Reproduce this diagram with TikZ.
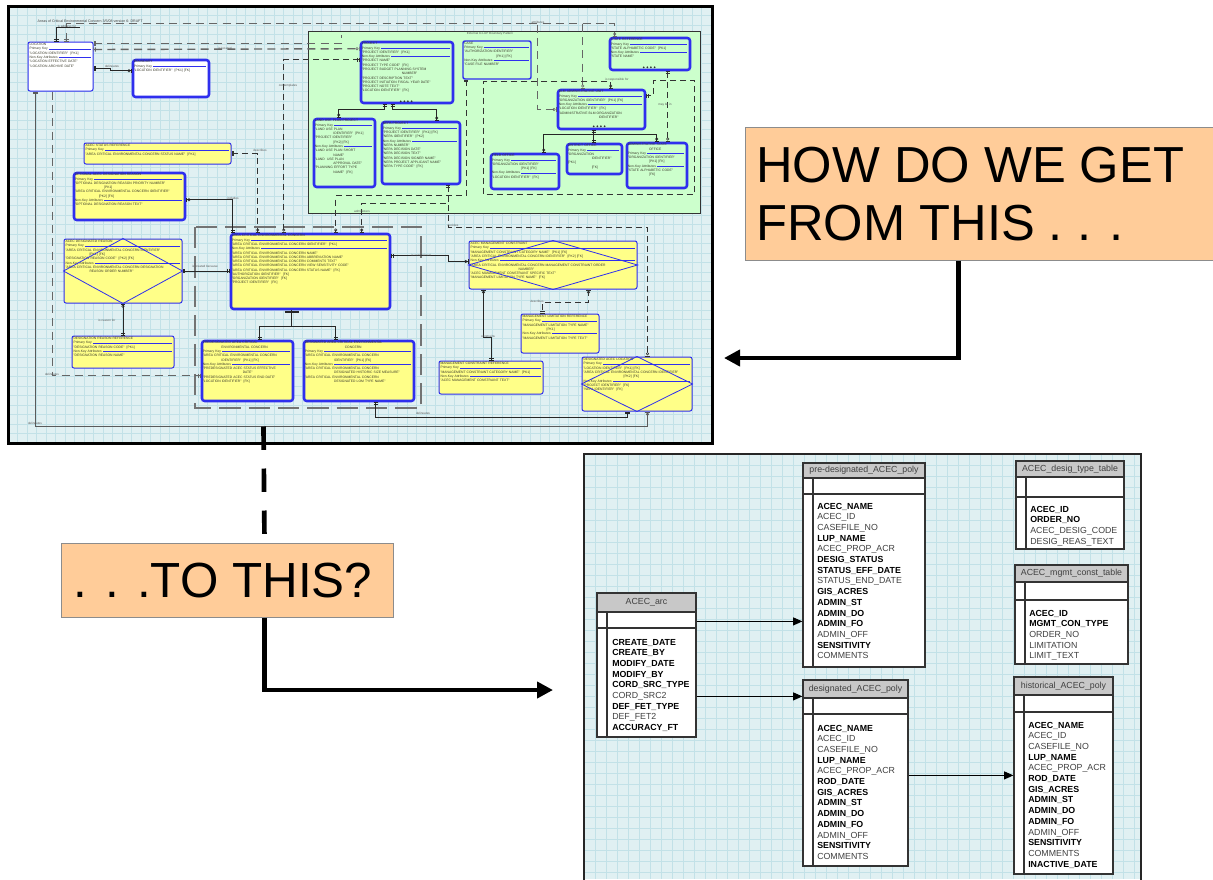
\documentclass[tikz,border=0pt]{standalone}
\usepackage{fontspec}
\setmainfont{Liberation Sans}
\usetikzlibrary{fit,calc,arrows.meta}

\definecolor{panelbg}{HTML}{E0F0F2}
\definecolor{gridcol}{HTML}{C2E1E7}
\definecolor{erblue}{HTML}{2F2FEE}
\definecolor{eryellow}{HTML}{FFFF88}
\definecolor{ergreen}{HTML}{CCFFCC}
\definecolor{ertext}{HTML}{3A3A2A}
\definecolor{callout}{HTML}{FFCC99}
\definecolor{hdrgray}{HTML}{C8C8C8}
\definecolor{rowgray}{HTML}{404040}
\definecolor{relgray}{HTML}{5A5A5A}

% separator rule after the key headings of an entity
\newcommand\erline{\textcolor{erblue}{\leaders\hrule height 1.05pt depth -0.6pt\hskip 0pt plus 1fill}\kern0pt}
\newcommand\pkey{Primary Key\ \erline}
\newcommand\nkey{Non-Key Attributes\ \erline}
\newcommand\rowB{\bfseries\color{black}}
\newcommand\rowN{\color{rowgray}}

\tikzset{
  bars/.tip={Bar[width=3.2pt,line width=0.5pt,sep=0.7pt]Bar[width=3.2pt,line width=0.5pt]},
  zcrow/.tip={Circle[open,length=2.3pt,width=2.3pt,line width=0.45pt,sep=0.4pt]Bar[width=3.2pt,line width=0.5pt]},
  gridln/.style={draw=gridcol,line width=0.35pt},
  ent/.style={draw=erblue,line width=0.75pt,rounded corners=1.5pt,inner sep=0pt},
  entk/.style={draw=erblue,line width=1.9pt,rounded corners=2pt,inner sep=0pt},
  zone/.style={draw=black!80,fill=ergreen,line width=0.75pt,inner sep=0pt},
  ertxt/.style={font=\fontsize{2.5pt}{3.2pt}\selectfont,text=ertext,inner sep=0pt,align=left,anchor=north west},
  lbl/.style={font=\fontsize{2.3pt}{2.6pt}\selectfont,text=black!65,inner sep=0.3pt},
  relk/.style={draw=black!85,line width=0.6pt},
  relg/.style={draw=relgray,line width=0.9pt},
  reld/.style={draw=black!80,line width=0.7pt,dash pattern=on 4.5pt off 3pt},
  reldh/.style={draw=black!60,line width=1.05pt,dash pattern=on 6pt off 4pt},
  relgd/.style={draw=black!55,line width=0.9pt,dash pattern=on 16pt off 6pt},
  panelA/.style={draw=black,line width=2.25pt,inner sep=0pt},
  panelB/.style={draw=black!85,line width=1.5pt,inner sep=0pt},
  tblbody/.style={draw=black!80,fill=white,line width=0.9pt,inner sep=0pt},
  tblhead/.style={draw=black!80,fill=hdrgray,line width=0.9pt,inner sep=0pt},
  tblline/.style={draw=black!80,line width=0.9pt},
  tbltitle/.style={font=\fontsize{6.6pt}{8pt}\selectfont,text=black!75,inner sep=0pt},
  tblrow/.style={font=\fontsize{6.6pt}{8pt}\selectfont,anchor=base west,inner sep=0pt},
  tarrow/.style={draw=black,line width=0.8pt,-{Triangle[length=7pt,width=6pt]}},
  callbox/.style={fill=callout,draw=black!45,line width=0.75pt,inner sep=0pt},
  calltext/.style={font=\fontsize{38pt}{44pt}\selectfont,anchor=base west,inner sep=0pt},
  bigline/.style={draw=black,line width=3.5pt,-{Triangle[length=12pt,width=12pt]}},
  bigdash/.style={draw=black,line width=3.5pt,dash pattern=on 17.5pt off 14pt},
}

% entity box: name, x1, y1, x2, y2, box style, attribute text
\newcommand\erbox[7]{%
  \node[#6, fit={(#2,#3) (#4,#5)}] (#1) {};%
  \pgfmathsetmacro\ertw{(#4-#2-3.5)*0.75}%
  \node[ertxt, text width=\ertw pt] (#1-t) at ($(#1.north west)+(1.8,1.6)$) {#7};%
}
% table: name, x1, y1, x2, header bottom, key row bottom, bottom, column line x, title
\newcommand\dbtable[9]{%
  \node[tblbody, fit={(#2,#5) (#4,#7)}] (#1) {};%
  \node[tblhead, fit={(#2,#3) (#4,#5)}] (#1-h) {};%
  \node[tbltitle] (#1-title) at (#1-h.center) {#9};%
  \draw[tblline] (#2,#6) -- (#4,#6);%
  \draw[tblline] (#8,#5) -- (#8,#7);%
}
% table rows: name, x, first baseline, list of style/text
\newcommand\dbrows[4]{%
  \foreach \rf/\rt [count=\k from 0] in {#4}{%
    \node[tblrow] (#1-r\k) at (#2,{#3+10.7*\k}) {\rf\rt};}%
}

\begin{document}
\begin{tikzpicture}[x=0.75pt,y=-0.75pt]
\useasboundingbox (0,0) rectangle (1213,879);
\fill[white] (0,0) rectangle (1213,879);

% ---------- logical model sheet ----------
\begin{scope}
  \clip (8,6) rectangle (712,443);
  \fill[panelbg] (8,6) rectangle (712,443);
  \foreach \gx in {8,17.5,...,712} \draw[gridln] (\gx,6) -- (\gx,443);
  \foreach \gy in {6,15.5,...,443} \draw[gridln] (8,\gy) -- (712,\gy);
\end{scope}

% ---------- physical tables sheet ----------
\begin{scope}
  \clip (584,454) rectangle (1141,879);
  \fill[panelbg] (584,454) rectangle (1141,879);
  \foreach \gx in {584,595,...,1141} \draw[gridln] (\gx,454) -- (\gx,879);
  \foreach \gy in {454,465,...,879} \draw[gridln] (584,\gy) -- (1141,\gy);
\end{scope}

\node[lbl,anchor=west,font=\fontsize{2.7pt}{3pt}\selectfont,text=black!75] (sheettitle) at (37,21) {Areas of Critical Environmental Concern 3/5/08 version 6: DRAFT};

% pattern zone
\node[zone, fit={(308,31) (700,213)}] (zone) {};
\node[lbl] (zonelbl) at (490,34) {External to LUP Boundary Pattern};

% subtype grouping frame
\draw[relgd] (195,227) rectangle (421,408);

% ---------- entities ----------
\erbox{loc}{28}{42}{93}{91}{ent,fill=white}{LOCATION\\ \pkey\\ "LOCATION IDENTIFIER"\ \ [PK1]\\ \nkey\\ "LOCATION EFFECTIVE DATE"\\ "LOCATION ARCHIVE DATE"}
\erbox{bnd}{133}{60}{209}{97}{entk,fill=white}{BOUNDARY\\ \pkey\\ "LOCATION IDENTIFIER"\ \ [PK1] [FK]}
\erbox{asr}{84}{143}{231}{164}{ent,fill=eryellow}{ACEC STATUS REFERENCE\\ \pkey\\ "AREA CRITICAL ENVIRONMENTAL CONCERN STATUS NAME"\ \ [PK1]}
\erbox{odr}{74}{173}{185}{220}{entk,fill=eryellow}{OPTIONAL ACEC DESIGNATION REASON\\ \pkey\\ "OPTIONAL DESIGNATION REASON PRIORITY NUMBER"\\ \hspace*{22pt}[PK1]\\ "AREA CRITICAL ENVIRONMENTAL CONCERN IDENTIFIER"\\ \hspace*{18pt}[PK2] [FK]\\ \nkey\\ "OPTIONAL DESIGNATION REASON TEXT"}
\erbox{adr}{64}{239}{182}{303}{ent,fill=eryellow}{ACEC DESIGNATED REASON\\ \pkey\\ "AREA CRITICAL ENVIRONMENTAL CONCERN IDENTIFIER"\\ \hspace*{18pt}[PK1] [FK]\\ "DESIGNATION REASON CODE"\ \ [PK2] [FK]\\ \nkey\\ "AREA CRITICAL ENVIRONMENTAL CONCERN DESIGNATION\\ \hspace*{18pt}REASON ORDER NUMBER"}
\draw[erblue,line width=0.6pt] (adr.north) -- (adr.east) -- (adr.south) -- (adr.west) -- cycle;
\erbox{drr}{72}{336}{174}{368}{ent,fill=eryellow}{DESIGNATION REASON REFERENCE\\ \pkey\\ "DESIGNATION REASON CODE"\ \ [PK1]\\ \nkey\\ "DESIGNATION REASON NAME"}
\erbox{acec}{231}{234}{390}{309}{entk,fill=eryellow}{AREA CRITICAL ENVIRONMENTAL CONCERN\\ \pkey\\ "AREA CRITICAL ENVIRONMENTAL CONCERN IDENTIFIER"\ \ [PK1]\\ \nkey\\ "AREA CRITICAL ENVIRONMENTAL CONCERN NAME"\\ "AREA CRITICAL ENVIRONMENTAL CONCERN ABBREVIATION NAME"\\ "AREA CRITICAL ENVIRONMENTAL CONCERN COMMENTS TEXT"\\ "AREA CRITICAL ENVIRONMENTAL CONCERN VIEW SENSITIVITY CODE"\\ "AREA CRITICAL ENVIRONMENTAL CONCERN STATUS NAME"\ \ [FK]\\ "AUTHORIZATION IDENTIFIER"\ \ [FK]\\ "ORGANIZATION IDENTIFIER"\ \ [FK]\\ "PROJECT IDENTIFIER"\ \ [FK]}
\erbox{pre}{202}{341}{293}{401}{entk,fill=eryellow}{PREDESIGNATED AREA CRITICAL\\ \hspace*{14pt}ENVIRONMENTAL CONCERN\\ \pkey\\ "AREA CRITICAL ENVIRONMENTAL CONCERN\\ \hspace*{14pt}IDENTIFIER"\ \ [PK1] [FK]\\ \nkey\\ "PREDESIGNATED ACEC STATUS EFFECTIVE\\ \hspace*{30pt}DATE"\\ "PREDESIGNATED ACEC STATUS END DATE"\\ "LOCATION IDENTIFIER"\ \ [FK]}
\erbox{des}{304}{341}{414}{401}{entk,fill=eryellow}{DESIGNATED AREA CRITICAL ENVIRONMENTAL\\ \hspace*{30pt}CONCERN\\ \pkey\\ "AREA CRITICAL ENVIRONMENTAL CONCERN\\ \hspace*{22pt}IDENTIFIER"\ \ [PK1] [FK]\\ \nkey\\ "AREA CRITICAL ENVIRONMENTAL CONCERN\\ \hspace*{22pt}DESIGNATED HISTORIC SIZE MEASURE"\\ "AREA CRITICAL ENVIRONMENTAL CONCERN\\ \hspace*{22pt}DESIGNATED LOM TYPE NAME"}
\erbox{amc}{469}{241}{637}{289}{ent,fill=eryellow}{ACEC MANAGEMENT CONSTRAINT\\ \pkey\\ "MANAGEMENT CONSTRAINT CATEGORY NAME"\ \ [PK1] [FK]\\ "AREA CRITICAL ENVIRONMENTAL CONCERN IDENTIFIER"\ \ [PK2] [FK]\\ \nkey\\ "AREA CRITICAL ENVIRONMENTAL CONCERN MANAGEMENT CONSTRAINT ORDER\\ \hspace*{36pt}NUMBER"\\ "ACEC MANAGEMENT CONSTRAINT SPECIFIC TEXT"\\ "MANAGEMENT LIMITATION TYPE NAME"\ \ [FK]}
\draw[erblue,line width=0.6pt] (amc.north) -- (amc.east) -- (amc.south) -- (amc.west) -- cycle;
\erbox{mlr}{521}{314}{599}{353}{ent,fill=eryellow}{MANAGEMENT LIMITATION REFERENCE\\ \pkey\\ "MANAGEMENT LIMITATION TYPE NAME"\\ \hspace*{18pt}[PK1]\\ \nkey\\ "MANAGEMENT LIMITATION TYPE TEXT"}
\erbox{mcr}{439}{361}{543}{394}{ent,fill=eryellow}{MANAGEMENT CONSTRAINT REFERENCE\\ \pkey\\ "MANAGEMENT CONSTRAINT CATEGORY NAME"\ \ [PK1]\\ \nkey\\ "ACEC MANAGEMENT CONSTRAINT TEXT"}
\erbox{dal}{582}{357}{692}{411}{ent,fill=eryellow}{DESIGNATED ACEC LOCATION\\ \pkey\\ "LOCATION IDENTIFIER"\ \ [PK1] [FK]\\ "AREA CRITICAL ENVIRONMENTAL CONCERN IDENTIFIER"\\ \hspace*{30pt}[PK2] [FK]\\ \nkey\\ "PROJECT IDENTIFIER"\ \ [FK]\\ "NEPA IDENTIFIER"\ \ [FK]}
\draw[erblue,line width=0.6pt] (dal.north) -- (dal.east) -- (dal.south) -- (dal.west) -- cycle;

\erbox{proj}{361}{42}{453}{103}{entk,fill=ergreen}{PROJECT\\ \pkey\\ "PROJECT IDENTIFIER"\ \ [PK1]\\ \nkey\\ "PROJECT NAME"\\ "PROJECT TYPE CODE"\ \ [FK]\\ "PROJECT BUDGET PLANNING SYSTEM\\ \hspace*{30pt}NUMBER"\\ "PROJECT DESCRIPTION TEXT"\\ "PROJECT INITIATION FISCAL YEAR DATE"\\ "PROJECT NOTE TEXT"\\ "LOCATION IDENTIFIER"\ \ [FK]}
\erbox{case}{463}{41}{531}{79}{ent,fill=ergreen,line width=1.1pt}{CASE\\ \pkey\\ "AUTHORIZATION IDENTIFIER"\\ \hspace*{24pt}[PK1] [FK]\\ \nkey\\ "CASE FILE NUMBER"}
\erbox{sref}{610}{38}{690}{70}{entk,fill=ergreen}{STATE REFERENCE\\ \pkey\\ "STATE ALPHABETIC CODE"\ \ [PK1]\\ \nkey\\ "STATE NAME"}
\erbox{blm}{558}{90}{645}{129}{entk,fill=ergreen}{BLM ADMINISTRATIVE UNIT\\ \pkey\\ "ORGANIZATION IDENTIFIER"\ \ [PK1] [FK]\\ \nkey\\ "LOCATION IDENTIFIER"\ \ [FK]\\ "ADMINISTRATIVE BLM ORGANIZATION\\ \hspace*{30pt}IDENTIFIER"}
\erbox{lup}{314}{119}{375}{187}{entk,fill=ergreen}{LAND USE PLAN PROJECT\\ \pkey\\ "LAND USE PLAN\\ \hspace*{14pt}IDENTIFIER"\ \ [PK1]\\ "PROJECT IDENTIFIER"\\ \hspace*{14pt}[PK2] [FK]\\ \nkey\\ "LAND USE PLAN SHORT\\ \hspace*{14pt}NAME"\\ "LAND\ \ USE PLAN\\ \hspace*{14pt}APPROVAL DATE"\\ "PLANNING EFFORT TYPE\\ \hspace*{14pt}NAME"\ \ [FK]}
\erbox{nepa}{382}{122}{460}{184}{entk,fill=ergreen}{NEPA PROJECT\\ \pkey\\ "PROJECT IDENTIFIER"\ \ [PK1] [FK]\\ "NEPA IDENTIFIER"\ \ [PK2]\\ \nkey\\ "NEPA NUMBER"\\ "NEPA DECISION DATE"\\ "NEPA DECISION TEXT"\\ "NEPA DECISION SIGNER NAME"\\ "NEPA PROJECT APPLICANT NAME"\\ "NEPA TYPE CODE"\ \ [FK]}
\erbox{fo}{491}{154}{559}{189}{entk,fill=ergreen}{FIELD OFFICE\\ \pkey\\ "ORGANIZATION IDENTIFIER"\\ \hspace*{22pt}[PK1] [FK]\\ \nkey\\ "LOCATION IDENTIFIER"\ \ [FK]}
\erbox{dist}{567}{144}{622}{174}{entk,fill=ergreen}{DISTRICT OFFICE\\ \pkey\\ "ORGANIZATION\\ \hspace*{18pt}IDENTIFIER"\ \ [PK1]\\ \hspace*{18pt}[FK]}
\erbox{aso}{627}{143}{687}{188}{entk,fill=ergreen}{ADMINISTRATIVE STATE\\ \hspace*{16pt}OFFICE\\ \pkey\\ "ORGANIZATION IDENTIFIER"\\ \hspace*{16pt}[PK1] [FK]\\ \nkey\\ "STATE ALPHABETIC CODE"\\ \hspace*{16pt}[FK]}

% key markers
\foreach \d in {0,...,3} {
  \fill[black!80] ($(proj.south west)+(41+3.6*\d,-3)$) circle[radius=0.75pt];
  \fill[black!80] ($(sref.south west)+(35+3.6*\d,-4)$) circle[radius=0.75pt];
  \fill[black!80] ($(blm.south west)+(37+3.6*\d,-4)$) circle[radius=0.75pt];
}

% ---------- relationships ----------
\draw[relg,bars-zcrow] ($(loc.south west)+(8,0)$) |- ($(dal.south west)+(66,15)$) -- ($(dal.south west)+(66,0)$);
\draw[reldh,-bars] ($(loc.south west)+(25,0)$) |- ($(pre.north west)+(0,36)$);
\draw[relk,bars-bars] ($(des.south west)+(73,0)$) |- ($(dal.south west)+(46,6)$) -- ($(dal.south west)+(46,0)$);
\draw[relk,bars-zcrow] ($(loc.north east)+(0,27)$) -| ($(bnd.north west)+(-21,12)$) -- ($(bnd.north west)+(0,12)$);
\draw[reldh,bars-zcrow] ($(loc.north west)+(39,0)$) |- ($(sref.north west)+(6,-13)$) -- ($(sref.north west)+(6,0)$);
\draw[relk,bars-] ($(loc.north west)+(29,0)$) |- ($(loc.north west)+(52,-14)$);
\draw[reldh,bars-] ($(loc.north east)+(0,2)$) -| ($(zone.north west)+(34,4)$);
\draw[reldh,bars-zcrow] ($(loc.north east)+(0,8)$) -- ($(proj.north west)+(0,8)$);
\draw[reld,bars-zcrow] ($(proj.north west)+(0,19)$) -| ($(acec.north west)+(54,0)$);
\draw[reld,bars-zcrow] (asr.east) -| ($(acec.north west)+(28,0)$);
\draw[relk,zcrow-bars] ($(odr.north east)+(0,28)$) -| ($(acec.north west)+(3,0)$);
\draw[reldh,-zcrow] ($(zone.north west)+(230,-6)$) |- (blm.west);
\draw[reldh,-zcrow] ($(blm.north west)+(26,-65)$) -- ($(blm.north west)+(26,0)$);
\draw[reld,bars-zcrow] ($(sref.south west)+(59,0)$) -- ($(aso.north west)+(42,0)$);
\draw[reld,zcrow-bars] ($(blm.north west)+(54,0)$) |- ($(zone.north west)+(176,51)$) |- ($(zone.north west)+(387,164)$) |- ($(blm.north east)+(7,-8)$) |- ($(blm.north east)+(0,7)$);
\draw[reld,bars-zcrow] ($(case.south west)+(4,0)$) |- ($(acec.north west)+(106,-37)$) -- ($(acec.north west)+(106,0)$);
\draw[reld,bars-zcrow] ($(nepa.south east)+(-13,0)$) |- ($(acec.north west)+(132,-29)$) -- ($(acec.north west)+(132,0)$);
\draw[reld,-zcrow] ($(nepa.south east)+(-13,0)$) |- ($(dal.north west)+(66,-129)$) -- ($(dal.north west)+(66,0)$);
\draw[relk,bars-bars] (adr.east) -- (adr.east -| acec.west);
\draw[relk,zcrow-bars] (adr.south) -- (drr.north);
\draw[relk,line width=1.6pt] ($(acec.south west)+(55,1.5)$) -- ($(acec.south west)+(69,1.5)$);
\draw[relk] ($(acec.south west)+(62,0)$) -- ($(acec.south west)+(62,16)$);
\draw[relk,-bars] ($(acec.south west)+(62,16)$) -| ($(pre.north west)+(59,0)$);
\draw[relk,-bars] ($(acec.south west)+(62,16)$) -| ($(des.north west)+(33,0)$);
\draw[relk,bars-zcrow] ($(acec.north east)+(0,23)$) -| ($(amc.north west)+(-20,21)$) -- ($(amc.north west)+(0,21)$);
\draw[relk,zcrow-bars] ($(amc.south west)+(15,0)$) |- ($(mcr.north west)+(53,-23)$) -- ($(mcr.north west)+(53,0)$);
\draw[reld,zcrow-bars] ($(amc.south west)+(120,0)$) |- ($(mlr.north west)+(22,-11)$) -- ($(mlr.north west)+(22,0)$);
\draw[relk,bars-zcrow] ($(proj.south west)+(25,0)$) |- ($(lup.north west)+(26,-8)$) -- ($(lup.north west)+(26,0)$);
\draw[relk,bars-zcrow] ($(proj.south west)+(33,0)$) |- ($(nepa.north west)+(56,-11)$) -- ($(nepa.north west)+(56,0)$);
\draw[relk,bars-bars] ($(blm.south west)+(37,0)$) -- ($(dist.north west)+(28,0)$);
\draw[relk,-zcrow] ($(blm.south west)+(37,4)$) -| ($(fo.north west)+(54,0)$);
\draw[relk,-zcrow] ($(blm.south west)+(37,4)$) -| ($(aso.north west)+(31,0)$);

% relationship labels
\node[lbl] (l1) at (67,26) {is address for};
\node[lbl] (l2) at (225,48) {is located};
\node[lbl] (l3) at (112,66) {delineates};
\node[lbl] (l4) at (288,86) {contemplates};
\node[lbl] (l5) at (260,150) {describes};
\node[lbl] (l6) at (233,198) {includes};
\node[lbl] (l7) at (538,22) {attributes};
\node[lbl] (l9) at (617,80) {is responsible for};
\node[lbl] (l10) at (665,105) {may be in};
\node[lbl] (l11) at (362,211) {administers};
\node[lbl] (l12) at (453,225) {decides};
\node[lbl] (l13) at (205,266) {is created because};
\node[lbl] (l14) at (107,320) {is reason for};
\node[lbl] (l15) at (421,255) {is constrained};
\node[lbl] (l16) at (488,336) {constrains};
\node[lbl] (l17) at (537,301) {describes};
\node[lbl] (l18) at (52,374) {delineates};
\node[lbl] (l19) at (35,423) {delineates};
\node[lbl] (l20) at (423,413) {delineates};

% sheet frames
\node[panelA, fit={(8,6) (712,443)}] (p1) {};
\node[panelB, fit={(584,454) (1141,900)}] (p2) {};

% ---------- physical tables ----------
\dbtable{arc}{597}{593}{696}{612}{628}{737}{607}{ACEC\_arc}
\dbrows{arc}{612}{645}{\rowB/CREATE\_DATE,\rowB/CREATE\_BY,\rowB/MODIFY\_DATE,\rowB/MODIFY\_BY,\rowB/CORD\_SRC\_TYPE,\rowN/CORD\_SRC2,\rowB/DEF\_FET\_TYPE,\rowN/DEF\_FET2,\rowB/ACCURACY\_FT}

\dbtable{pdp}{803}{463}{925}{478}{494}{667}{813}{pre-designated\_ACEC\_poly}
\dbrows{pdp}{817}{509}{\rowB/ACEC\_NAME,\rowN/ACEC\_ID,\rowN/CASEFILE\_NO,\rowB/LUP\_NAME,\rowN/ACEC\_PROP\_ACR,\rowB/DESIG\_STATUS,\rowB/STATUS\_EFF\_DATE,\rowN/STATUS\_END\_DATE,\rowB/GIS\_ACRES,\rowB/ADMIN\_ST,\rowB/ADMIN\_DO,\rowB/ADMIN\_FO,\rowN/ADMIN\_OFF,\rowB/SENSITIVITY,\rowN/COMMENTS}

\dbtable{dsp}{803}{680}{908}{698}{714}{866}{813}{designated\_ACEC\_poly}
\dbrows{dsp}{817}{731}{\rowB/ACEC\_NAME,\rowN/ACEC\_ID,\rowN/CASEFILE\_NO,\rowB/LUP\_NAME,\rowN/ACEC\_PROP\_ACR,\rowB/ROD\_DATE,\rowB/GIS\_ACRES,\rowB/ADMIN\_ST,\rowB/ADMIN\_DO,\rowB/ADMIN\_FO,\rowN/ADMIN\_OFF,\rowB/SENSITIVITY,\rowN/COMMENTS}

\dbtable{hsp}{1014}{677}{1113}{695}{712}{874}{1024}{historical\_ACEC\_poly}
\dbrows{hsp}{1028}{728}{\rowB/ACEC\_NAME,\rowN/ACEC\_ID,\rowN/CASEFILE\_NO,\rowB/LUP\_NAME,\rowN/ACEC\_PROP\_ACR,\rowB/ROD\_DATE,\rowB/GIS\_ACRES,\rowB/ADMIN\_ST,\rowB/ADMIN\_DO,\rowB/ADMIN\_FO,\rowN/ADMIN\_OFF,\rowB/SENSITIVITY,\rowN/COMMENTS,\rowB/INACTIVE\_DATE}

\dbtable{dtt}{1016}{461}{1124}{477}{497}{549}{1026}{ACEC\_desig\_type\_table}
\dbrows{dtt}{1030}{512}{\rowB/ACEC\_ID,\rowB/ORDER\_NO,\rowN/ACEC\_DESIG\_CODE,\rowN/DESIG\_REAS\_TEXT}

\dbtable{mct}{1015}{565}{1128}{582}{600}{664}{1025}{ACEC\_mgmt\_const\_table}
\dbrows{mct}{1029}{616}{\rowB/ACEC\_ID,\rowB/MGMT\_CON\_TYPE,\rowN/ORDER\_NO,\rowN/LIMITATION,\rowN/LIMIT\_TEXT}

\coordinate (a1) at ($(arc.north east)+(0,10)$);
\coordinate (a2) at ($(arc.north east)+(0,85)$);
\coordinate (a3) at ($(dsp.north east)+(0,78)$);
\draw[tarrow] (a1) -- (a1 -| pdp.west);
\draw[tarrow] (a2) -- (a2 -| dsp-h.west);
\draw[tarrow] (a3) -- (a3 -| hsp.west);

% ---------- callouts ----------
\node[callbox, fit={(745,127) (1230,260)}] (q1) {};
\node[calltext] (q1-a) at (756,182) {HOW DO WE GET};
\node[calltext] (q1-b) at (756,240) {FROM THIS . . .};
\node[callbox, fit={(61,543) (393,617)}] (q2) {};
\node[calltext,font=\fontsize{37pt}{44pt}\selectfont] (q2-a) at (73,597) {. . .TO THIS?};

\coordinate (p1tip) at (724,358);
\coordinate (p2tip) at (553,690);
\draw[bigline] ($(q1.south west)+(214,0)$) |- (p1tip);
\draw[bigdash] ($(p1.south west)+(257,-18)$) -- ($(q2.north west)+(204,0)$);
\draw[bigline] ($(q2.south west)+(204,0)$) |- (p2tip);
\end{tikzpicture}
\end{document}
